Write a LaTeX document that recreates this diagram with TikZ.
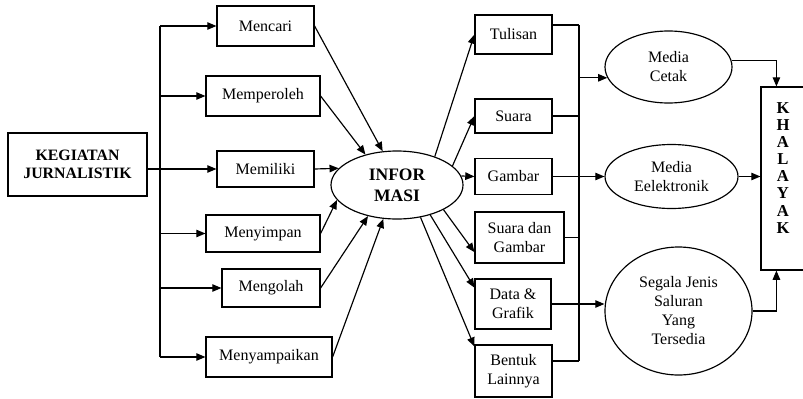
\documentclass[tikz,border=0pt]{standalone}
\usepackage{fontspec}
\setmainfont{Liberation Serif}
\usetikzlibrary{shapes.geometric,arrows.meta}

\begin{document}
\begin{tikzpicture}[
    x=0.6pt, y=-0.6pt,
    line width=0.7pt,
    >={Triangle[length=5.5pt,width=4.5pt]},
    box/.style={rectangle, draw, inner sep=0pt, align=center, font=\fontsize{9.6}{11.4}\selectfont},
    oval/.style={ellipse, draw, inner sep=0pt, align=center, font=\fontsize{9.6}{11.4}\selectfont},
    heavy/.style={font=\bfseries\fontsize{9.5}{10.8}\selectfont},
    arrow/.style={->}
]
\useasboundingbox (0,0) rectangle (803,398);

% kegiatan
\node[box, heavy, minimum width=83.4pt, minimum height=37.8pt] (kegiatan) at (77.5,164.5) {KEGIATAN\\JURNALISTIK};

% kegiatan kiri
\node[box, minimum width=58.2pt, minimum height=24pt] (mencari) at (265.5,26) {Mencari};
\node[box, minimum width=68.4pt, minimum height=24pt] (memperoleh) at (263,96) {Memperoleh};
\node[box, minimum width=58.2pt, minimum height=21.6pt] (memiliki) at (265.5,169) {Memiliki};
\node[box, minimum width=68.4pt, minimum height=22.2pt] (menyimpan) at (263,233.5) {Menyimpan};
\node[box, minimum width=58.8pt, minimum height=22.8pt] (mengolah) at (271,288) {Mengolah};
\node[box, minimum width=75.6pt, minimum height=24pt] (menyampaikan) at (269,357) {Menyampaikan};

% informasi
\node[oval, font=\bfseries\fontsize{10.5}{12.6}\selectfont, minimum width=79.2pt, minimum height=40.8pt] (informasi) at (397,185) {INFOR\\MASI};

% bentuk informasi
\node[box, minimum width=46.2pt, minimum height=23.4pt] (tulisan) at (513.5,34.5) {Tulisan};
\node[box, minimum width=46.2pt, minimum height=20.4pt] (suara) at (513.5,116) {Suara};
\node[box, minimum width=46.2pt, minimum height=21.6pt] (gambar) at (513.5,176.5) {Gambar};
\node[box, minimum width=53.4pt, minimum height=30.6pt] (suaragambar) at (519.5,237.5) {Suara dan\\Gambar};
\node[box, minimum width=45.6pt, minimum height=30pt] (datagrafik) at (513,304) {Data \&\\Grafik};
\node[box, minimum width=46.2pt, minimum height=31.2pt] (bentuk) at (513.5,371) {Bentuk\\Lainnya};

% media
\node[oval, minimum width=76.2pt, minimum height=43.2pt] (cetak) at (668.5,67) {Media\\Cetak};
\node[oval, minimum width=79.8pt, minimum height=38.4pt] (elektronik) at (671.5,176.5) {Media\\Eelektronik};
\node[oval, minimum width=88.2pt, minimum height=76.8pt] (saluran) at (678.5,311) {Segala Jenis\\Saluran\\Yang\\Tersedia};

% khalayak
\node[box, font=\bfseries\fontsize{10}{11}\selectfont, minimum width=26.4pt, minimum height=109.8pt] (khalayak) at (783,178.5)
    {\def\arraystretch{0.93}\begin{tabular}{@{}c@{}}K\\H\\A\\L\\A\\Y\\A\\K\\ \mbox{}\end{tabular}};

% titik cabang
\coordinate (ltop) at (160,26);
\coordinate (lbot) at (ltop |- menyampaikan.west);
\coordinate (rtop) at (579,25);
\coordinate (rbot) at (579,361);

% garis kiri
\draw (ltop) -- (lbot);
\draw[arrow] (ltop) -- (mencari.west);
\draw[arrow] (ltop |- memperoleh.west) -- (memperoleh.west);
\draw[arrow] (kegiatan.east |- memiliki.west) -- (memiliki.west);
\draw[arrow] (ltop |- menyimpan.west) -- (menyimpan.west);
\draw[arrow] (ltop |- mengolah.west) -- (mengolah.west);
\draw[arrow] (lbot) -- (menyampaikan.west);

\draw[arrow] (mencari.east) -- (informasi.113);
\draw[arrow] (memperoleh.east) -- (informasi.136);
\draw[arrow] (memiliki.east) -- (informasi.164);
\draw[arrow] (menyimpan.east) -- (informasi.194);
\draw[arrow] (mengolah.east) -- (informasi.227);
\draw[arrow] (menyampaikan.east) -- (informasi.248);

% garis kanan
\draw[arrow] (informasi.37) -- (tulisan.west);
\draw[arrow] (informasi.19) -- (suara.west);
\draw[arrow] (informasi.8) -- (gambar.west);
\draw[arrow] (informasi.-28) -- (suaragambar.198);
\draw[arrow] (informasi.-42) -- (datagrafik.157);
\draw[arrow] (informasi.-54) -- (bentuk.148);

\draw (rtop) -- (rbot);
\draw (tulisan.east |- rtop) -- (rtop);
\draw (suara.east) -- (suara.east -| rtop);
\draw (suaragambar.east) -- (suaragambar.east -| rtop);
\draw (bentuk.east |- rbot) -- (rbot);

\draw[arrow] (rtop |- cetak.190) -- (cetak.190);
\draw[arrow] (gambar) -- (elektronik);
\draw[arrow] (datagrafik.east) -- (datagrafik.east -| saluran.west);

% ke khalayak
\draw[arrow] (cetak.6) -| ([xshift=9.6pt]khalayak.north west);
\draw[arrow] (elektronik) -- (elektronik -| khalayak.west);
\draw[arrow] (saluran.east) -| ([xshift=9.6pt]khalayak.south west);

\end{tikzpicture}
\end{document}
